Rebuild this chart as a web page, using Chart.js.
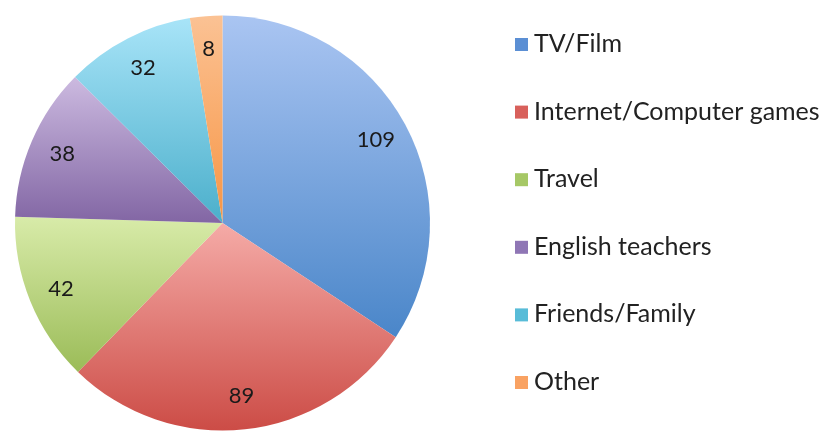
<!DOCTYPE html>
<html>
<head>
<meta charset="utf-8">
<script src="https://cdn.jsdelivr.net/npm/chart.js@4.4.1/dist/chart.umd.min.js"></script>
<style>
  html, body { margin: 0; padding: 0; background: #fff; }
  #wrap { width: 821px; height: 432px; }
</style>
</head>
<body>
<div id="wrap"><canvas id="pieChart"></canvas></div>
<script>
const categories = ['TV/Film', 'Internet/Computer games', 'Travel', 'English teachers', 'Friends/Family', 'Other']
const counts = [109, 89, 42, 38, 32, 8]

// light (top of slice) -> dark (bottom of slice)
const lightColors = ['#aac5f2', '#f5aba7', '#d8eba9', '#ccbae0', '#a8e4f8', '#fbc294']
const darkColors = ['#4a86c9', '#cc4c46', '#9bbc58', '#8266a4', '#4bafcb', '#f79544']
const legendColors = ['#5b8fd4', '#d8605b', '#a6c866', '#8f76b5', '#58bcd8', '#f9a262']

const FONT = 'Lato, "Open Sans", sans-serif'

// vertical extent of one slice, used for the per-slice gradient
function sliceYRange(cy, r, a0, a1) {
    let ys = [cy, cy + r * Math.sin(a0), cy + r * Math.sin(a1)]
    const inRange = (a) => {
        let t = a
        while (t < a0) t += Math.PI * 2
        return t <= a1
    }
    if (inRange(-Math.PI / 2)) ys.push(cy - r)
    if (inRange(Math.PI / 2)) ys.push(cy + r)
    return [Math.min(...ys), Math.max(...ys)]
}

function sliceFill(context) {
    const chart = context.chart
    const i = context.dataIndex
    const area = chart.chartArea
    if (!area) return darkColors[i]
    const cx = (area.left + area.right) / 2
    const cy = (area.top + area.bottom) / 2
    const r = Math.min(area.width, area.height) / 2
    const total = counts.reduce((a, b) => a + b, 0)
    let before = 0
    for (let k = 0; k < i; k++) before += counts[k]
    const a0 = -Math.PI / 2 + before / total * Math.PI * 2
    const a1 = a0 + counts[i] / total * Math.PI * 2
    const [y0, y1] = sliceYRange(cy, r, a0, a1)
    const g = chart.ctx.createLinearGradient(0, y0, 0, y1)
    g.addColorStop(0, lightColors[i])
    g.addColorStop(1, darkColors[i])
    return g
}

const valueLabels = {
    id: 'valueLabels',
    afterDatasetsDraw(chart) {
        const ctx = chart.ctx
        ctx.save()
        ctx.font = '22px ' + FONT
        ctx.fillStyle = '#1a1a1a'
        ctx.textAlign = 'center'
        ctx.textBaseline = 'middle'
        chart.getDatasetMeta(0).data.forEach((arc, i) => {
            const mid = (arc.startAngle + arc.endAngle) / 2
            const rr = arc.outerRadius * 0.84
            ctx.fillText(String(counts[i]), arc.x + Math.cos(mid) * rr, arc.y + Math.sin(mid) * rr)
        })
        ctx.restore()
    }
}

const sideLegend = {
    id: 'sideLegend',
    afterDraw(chart) {
        const ctx = chart.ctx
        ctx.save()
        ctx.font = '25px ' + FONT
        ctx.textBaseline = 'middle'
        categories.forEach((name, i) => {
            const y = 44 + i * 67.6
            ctx.fillStyle = legendColors[i]
            ctx.fillRect(515, y - 6, 13, 13)
            ctx.fillStyle = '#222222'
            ctx.fillText(name, 534, y)
        })
        ctx.restore()
    }
}

new Chart(document.getElementById('pieChart'), {
    type: 'pie',
    data: {
        labels: categories,
        datasets: [{
            data: counts,
            backgroundColor: sliceFill,
            borderWidth: 0
        }]
    },
    options: {
        responsive: true,
        maintainAspectRatio: false,
        animation: false,
        layout: { padding: { left: 15, right: 391, top: 14, bottom: 0 } },
        plugins: {
            legend: { display: false },
            tooltip: { enabled: false }
        }
    },
    plugins: [valueLabels, sideLegend]
})
</script>
</body>
</html>
